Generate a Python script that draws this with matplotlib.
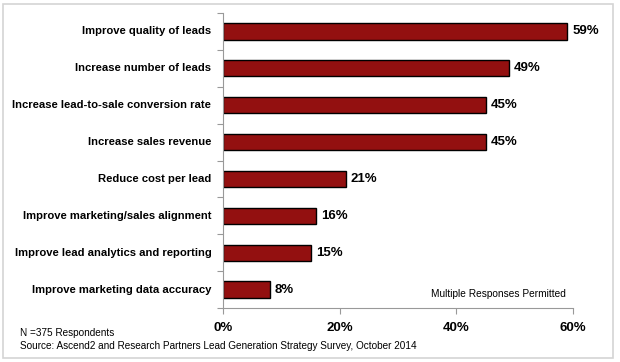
import matplotlib.pyplot as plt
from matplotlib.patches import Rectangle
import numpy as np

# Survey data (top to bottom)
categories = [
    "Improve quality of leads",
    "Increase number of leads",
    "Increase lead-to-sale conversion rate",
    "Increase sales revenue",
    "Reduce cost per lead",
    "Improve marketing/sales alignment",
    "Improve lead analytics and reporting",
    "Improve marketing data accuracy",
]
values = [59, 49, 45, 45, 21, 16, 15, 8]
xticks = [0, 20, 40, 60]
xticklabels = ["0%", "20%", "40%", "60%"]

plt.rcParams["font.family"] = ["Liberation Sans", "DejaVu Sans"]

fig = plt.figure(figsize=(6.2, 3.62), dpi=100)
ax = fig.add_axes([223 / 620, 1 - 308 / 362, 350 / 620, 295 / 362])

# light gray frame around the whole chart
fig.patches.append(Rectangle((3 / 620, 4 / 362), 610 / 620, 354 / 362,
                             transform=fig.transFigure, fill=False,
                             edgecolor="#d4d4d4", linewidth=1.2))

y = np.arange(len(categories))
ax.barh(y, values, height=0.44, color="#931010", edgecolor="black", linewidth=1)

for yi, v in zip(y, values):
    ax.text(v + 0.9, yi, f"{v}%", va="center", ha="left",
            fontsize=9.5, fontweight="bold")

ax.set_ylim(len(categories) - 0.5, -0.5)
ax.set_xlim(0, 60)

# category labels as text, ticks at the category boundaries
ax.set_yticks(np.arange(len(categories) + 1) - 0.5)
ax.set_yticklabels([])
for yi, c in zip(y, categories):
    ax.text(-2.0, yi, c, va="center", ha="right", fontsize=8.1,
            fontweight="bold")

ax.set_xticks(xticks)
ax.set_xticklabels(xticklabels, fontsize=9.5, fontweight="bold")
ax.tick_params(axis="x", length=4, color="#999999", pad=6)
ax.tick_params(axis="y", length=4, color="#999999")

for s in ["top", "right"]:
    ax.spines[s].set_visible(False)
for s in ["left", "bottom"]:
    ax.spines[s].set_color("#999999")

ax.text(0.98, 0.03, "Multiple Responses Permitted", transform=ax.transAxes,
        ha="right", va="bottom", fontsize=7.3)

fig.text(20 / 620, 1 - 333 / 362, "N =375 Respondents", fontsize=7.2, va="center")
fig.text(20 / 620, 1 - 346 / 362,
         "Source: Ascend2 and Research Partners Lead Generation Strategy Survey, October 2014",
         fontsize=7.2, va="center")

fig.savefig("out.png", dpi=100)
